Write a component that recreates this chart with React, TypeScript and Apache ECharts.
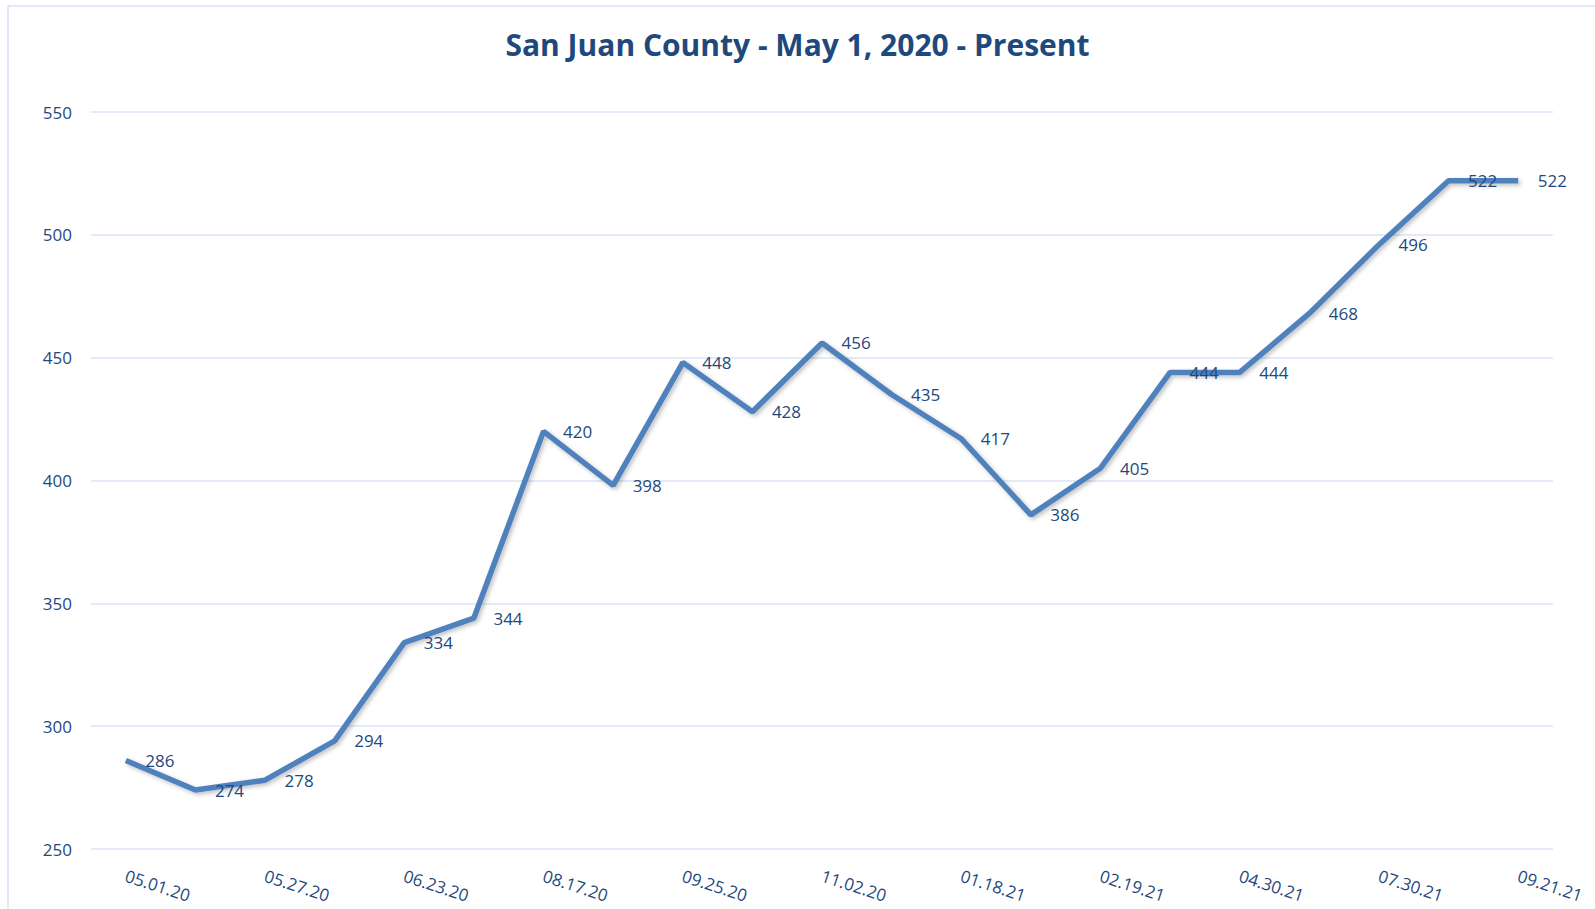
import React, { useEffect, useRef } from "react";
import * as echarts from "echarts";

const categories = [
  "05.01.20", "05.14.20", "05.27.20", "06.09.20", "06.23.20", "07.20.20", "08.17.20",
  "09.01.20", "09.25.20", "10.14.20", "11.02.20", "12.07.20", "01.18.21", "02.01.21",
  "02.19.21", "03.22.21", "04.30.21", "06.15.21", "07.30.21", "08.25.21", "09.21.21",
];
const values = [286, 274, 278, 294, 334, 344, 420, 398, 448, 428, 456, 435, 417, 386, 405, 444, 444, 468, 496, 522, 522];
const yTicks = { min: 250, max: 550, interval: 50 };
const title = "San Juan County - May 1, 2020 - Present";

const FONT = "Open Sans";
const DARK = "#1F497D";

export default function App() {
  const ref = useRef<HTMLDivElement>(null);
  useEffect(() => {
    document.body.style.margin = "0";
    const chart = echarts.init(ref.current!, null, { renderer: "svg" });
    chart.setOption({
      animation: false,
      backgroundColor: "#ffffff",
      title: {
        text: title,
        left: "center",
        top: 24,
        textStyle: { fontFamily: FONT, fontSize: 30, fontWeight: "bold", color: DARK },
      },
      graphic: [
        {
          type: "rect",
          shape: { x: 8, y: 6, width: 1620, height: 960 },
          style: { fill: "none", stroke: "#D6E3F3", lineWidth: 1.5 },
          silent: true,
        },
      ],
      grid: { left: 91, right: 42, top: 112, bottom: 60, containLabel: false },
      xAxis: {
        type: "category",
        data: categories,
        boundaryGap: true,
        axisLine: { show: false },
        axisTick: { show: false },
        axisLabel: {
          interval: 1,
          rotate: -18,
          margin: 26,
          fontFamily: FONT,
          fontSize: 17,
          color: DARK,
        },
      },
      yAxis: {
        type: "value",
        min: yTicks.min,
        max: yTicks.max,
        interval: yTicks.interval,
        axisLine: { show: false },
        axisTick: { show: false },
        axisLabel: { margin: 19, fontFamily: FONT, fontSize: 17, color: DARK },
        splitLine: { lineStyle: { color: "#D9E5F4", width: 1.5 } },
      },
      series: [
        {
          type: "line",
          data: values,
          symbol: "circle",
          symbolSize: 1,
          showSymbol: true,
          itemStyle: { color: "rgba(0,0,0,0)", borderWidth: 0 },
          lineStyle: {
            color: "#4F81BD",
            width: 5.5,
            shadowColor: "rgba(0,0,0,0.25)",
            shadowBlur: 4,
            shadowOffsetX: 2,
            shadowOffsetY: 2,
          },
          label: {
            show: true,
            position: "right",
            distance: 19,
            fontFamily: FONT,
            fontSize: 17,
            color: DARK,
          },
        },
      ],
    });
    return () => chart.dispose();
  }, []);
  return <div ref={ref} style={{ width: 1595, height: 909 }} />;
}
